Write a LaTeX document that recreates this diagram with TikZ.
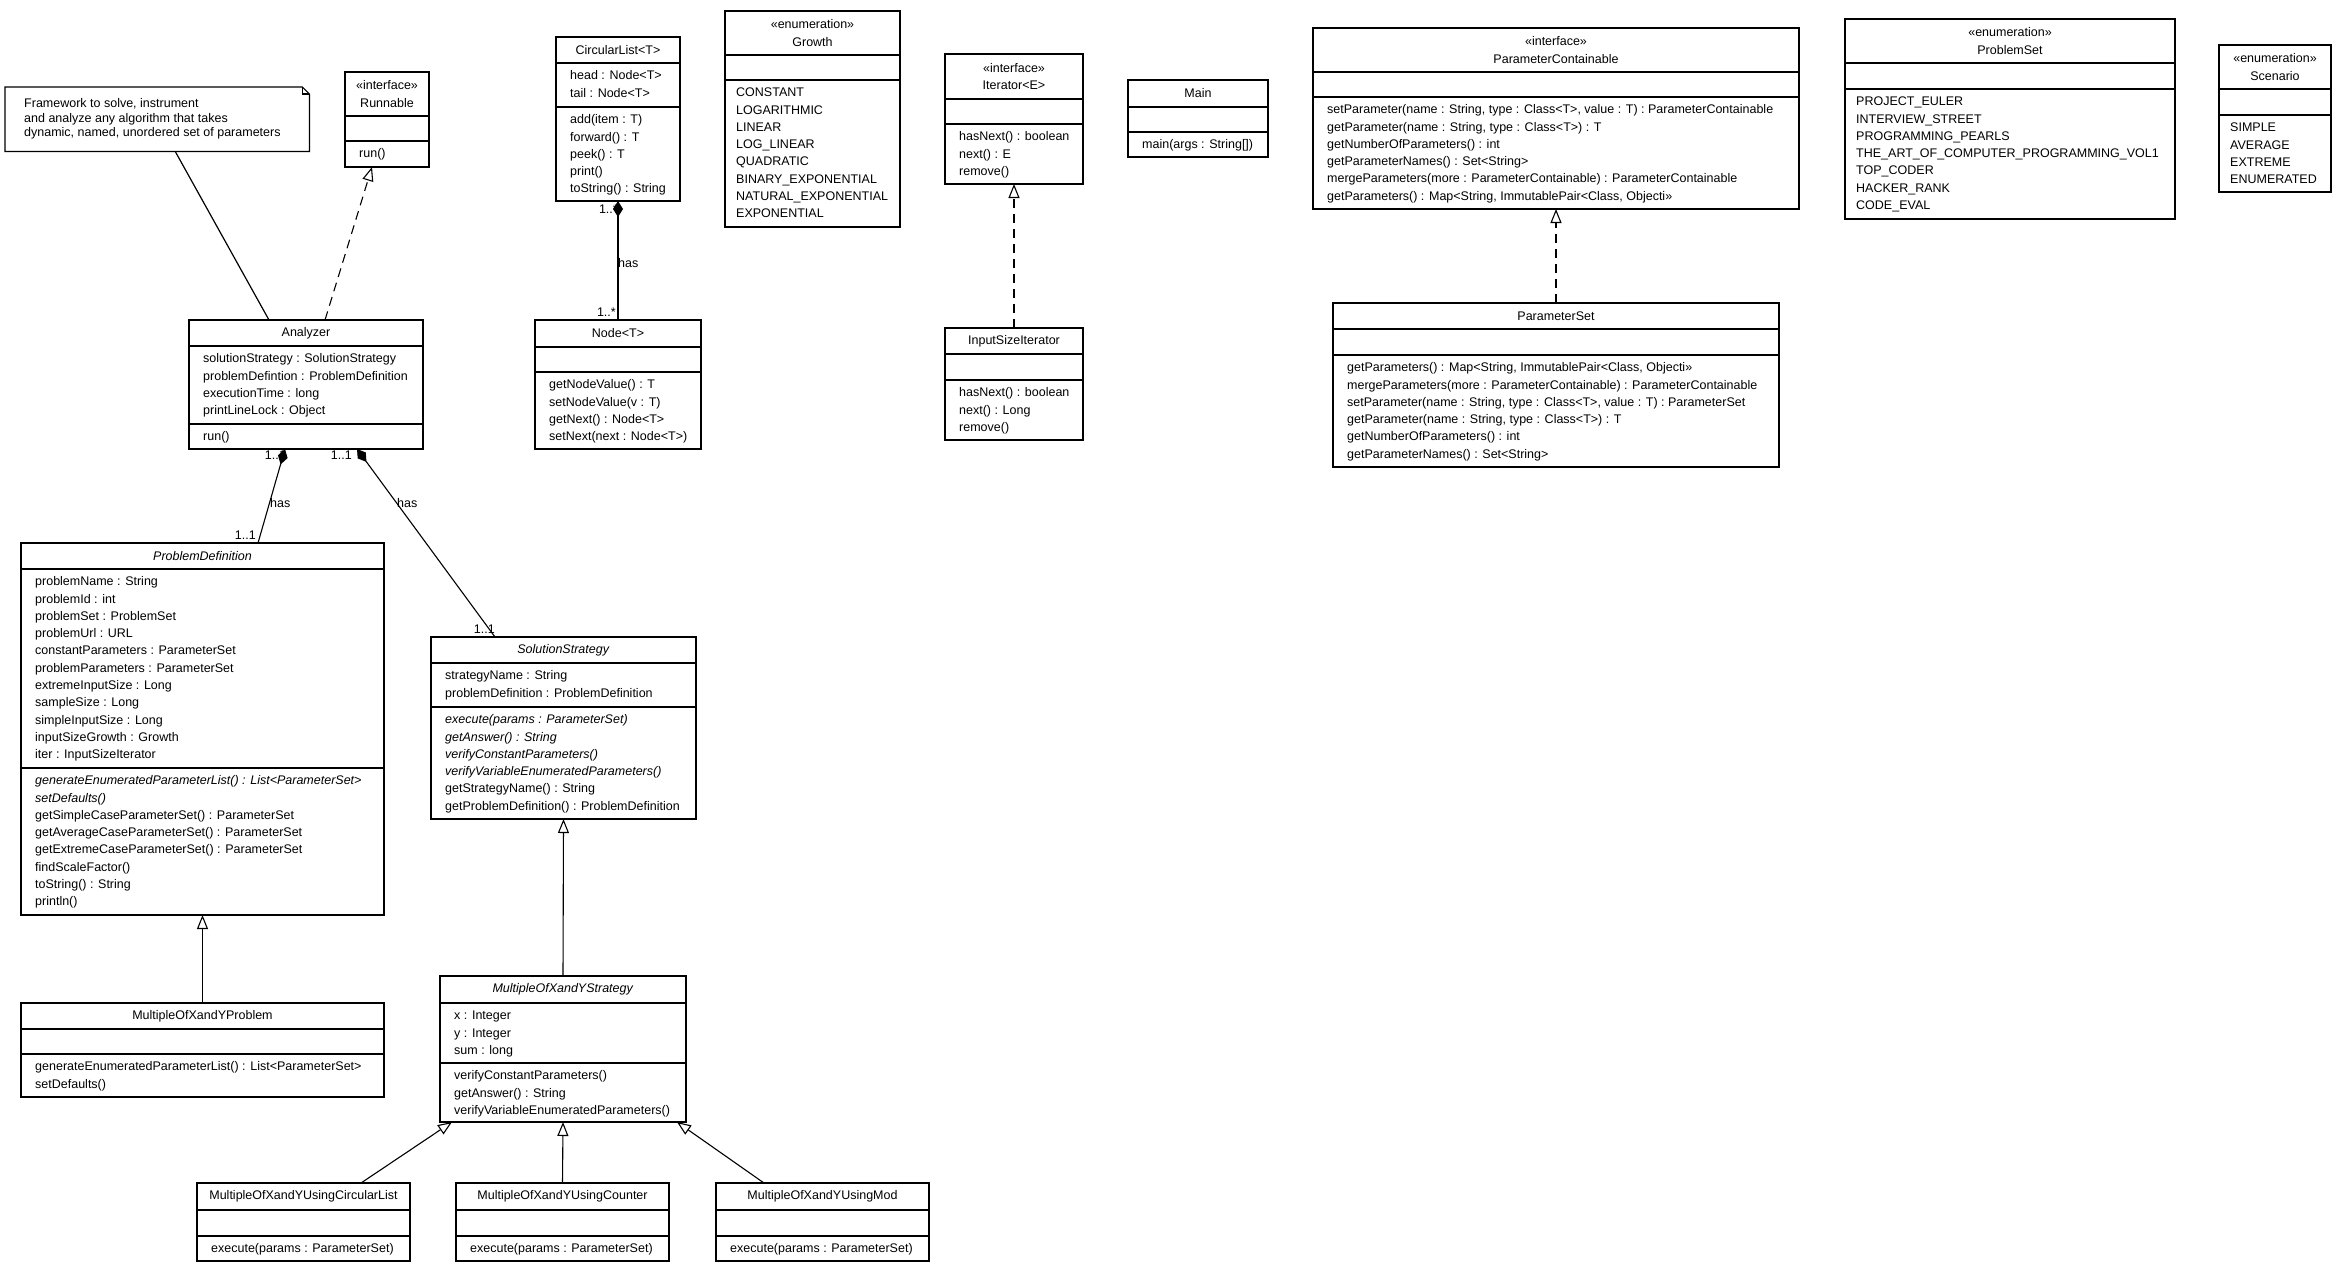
\documentclass[tikz,border=0pt]{standalone}
\usepackage{fontspec}
\setmainfont{Liberation Sans}
\usetikzlibrary{arrows.meta}

\tikzset{
  boxline/.style={line width=1.2pt},
  classnode/.style={draw,boxline,fill=white,anchor=north west,inner sep=0pt,outer sep=0pt},
  titletext/.style={inner sep=0pt,align=center,font=\fontsize{12.5}{17.3}\selectfont},
  listtext/.style={inner sep=0pt,anchor=north west,align=left,font=\fontsize{12.5}{17.3}\selectfont},
  notetext/.style={inner sep=0pt,anchor=north west,align=left,font=\fontsize{12.5}{14.8}\selectfont},
  multlabel/.style={inner sep=0pt,font=\fontsize{12.5}{15}\selectfont},
  realize/.style={line width=1.1pt,dash pattern=on 9pt off 6pt,arrows={-Triangle[open,length=14pt,width=11pt]}},
  extend/.style={line width=1.1pt,arrows={-Triangle[open,length=14pt,width=11pt]}},
  compose/.style={line width=1.1pt,arrows={Diamond[length=16pt,width=10pt]-}},
}

\def\colinset{14}
% id, corner, width, head/attr/op heights, title, attributes, operations
\newcommand\classbox[9]{%
  \node[classnode,minimum width=#3,minimum height=#4+#5+#6] (#1) at (#2) {};
  \draw[boxline] ([yshift=-#4]#1.north west) -- ([yshift=-#4]#1.north east);
  \draw[boxline] ([yshift=-#4-#5]#1.north west) -- ([yshift=-#4-#5]#1.north east);
  \node[titletext] (#1-title) at ([yshift=-#4/2]#1.north) {#7};
  \node[listtext] (#1-attrs) at ([xshift=\colinset,yshift=-#4-3.5]#1.north west) {\rule{0pt}{13pt}#8};
  \node[listtext] (#1-ops) at ([xshift=\colinset,yshift=-#4-#5-3.5]#1.north west) {\rule{0pt}{13pt}#9};
}

\begin{document}
\begin{tikzpicture}[x=1pt,y=-1pt]
\path[use as bounding box,fill=white] (0,0) rectangle (2345,1272);

\node[minimum width=304,minimum height=64,anchor=north west,inner sep=0pt] (note) at (5,87) {};
\draw[boxline] (note.north west) -- ([xshift=-7]note.north east) -- ([yshift=-7]note.north east)
  -- (note.south east) -- (note.south west) -- cycle;
\draw[boxline] ([xshift=-7]note.north east) |- ([yshift=-7]note.north east);
\node[notetext] (notebody) at (24,94) {\rule{0pt}{13pt}Framework to solve, instrument\\and analyze any algorithm that takes\\dynamic, named, unordered set of parameters};

\classbox{runnable}{345,72}{84}{44}{25}{26}{«interface»\\Runnable}{}{run()}
\classbox{analyzer}{189,320}{234}{26}{78}{25}{Analyzer}{solutionStrategy : SolutionStrategy\\problemDefintion : ProblemDefinition\\executionTime : long\\printLineLock : Object}{run()}
\classbox{circular}{556,37}{124}{26}{44}{94}{CircularList<T>}{head : Node<T>\\tail : Node<T>}{add(item : T)\\forward() : T\\peek() : T\\print()\\toString() : String}
\classbox{nodet}{535,320}{166}{27}{25}{77}{Node<T>}{}{getNodeValue() : T\\setNodeValue(v : T)\\getNext() : Node<T>\\setNext(next : Node<T>)}
\classbox{iterator}{945,54}{138}{45}{25}{60}{«interface»\\Iterator<E>}{}{hasNext() : boolean\\next() : E\\remove()}
\classbox{inputiter}{945,328}{138}{26}{26}{60}{InputSizeIterator}{}{hasNext() : boolean\\next() : Long\\remove()}
\classbox{main}{1128,80}{140}{27}{25}{25}{Main}{}{main(args : String[])}
\classbox{paramcont}{1313,28}{486}{44}{25}{112}{«interface»\\ParameterContainable}{}{setParameter(name : String, type : Class<T>, value : T) : ParameterContainable\\getParameter(name : String, type : Class<T>) : T\\getNumberOfParameters() : int\\getParameterNames() : Set<String>\\mergeParameters(more : ParameterContainable) : ParameterContainable\\getParameters() : Map<String, ImmutablePair<Class, Objecti>>}
\classbox{paramset}{1333,303}{446}{26}{26}{112}{ParameterSet}{}{getParameters() : Map<String, ImmutablePair<Class, Objecti>>\\mergeParameters(more : ParameterContainable) : ParameterContainable\\setParameter(name : String, type : Class<T>, value : T) : ParameterSet\\getParameter(name : String, type : Class<T>) : T\\getNumberOfParameters() : int\\getParameterNames() : Set<String>}
\classbox{problemdef}{21,543}{363}{26}{199}{147}{\textit{ProblemDefinition}}{problemName : String\\problemId : int\\problemSet : ProblemSet\\problemUrl : URL\\constantParameters : ParameterSet\\problemParameters : ParameterSet\\extremeInputSize : Long\\sampleSize : Long\\simpleInputSize : Long\\inputSizeGrowth : Growth\\iter : InputSizeIterator}{\textit{generateEnumeratedParameterList() : List<ParameterSet>}\\\textit{setDefaults()}\\getSimpleCaseParameterSet() : ParameterSet\\getAverageCaseParameterSet() : ParameterSet\\getExtremeCaseParameterSet() : ParameterSet\\findScaleFactor()\\toString() : String\\println()}
\classbox{strategy}{431,637}{265}{26}{44}{112}{\textit{SolutionStrategy}}{strategyName : String\\problemDefinition : ProblemDefinition}{\textit{execute(params : ParameterSet)}\\\textit{getAnswer() : String}\\\textit{verifyConstantParameters()}\\\textit{verifyVariableEnumeratedParameters()}\\getStrategyName() : String\\getProblemDefinition() : ProblemDefinition}
\classbox{problemxy}{21,1003}{363}{26}{25}{43}{MultipleOfXandYProblem}{}{generateEnumeratedParameterList() : List<ParameterSet>\\setDefaults()}
\classbox{strategyxy}{440,976}{246}{27}{60}{59}{\textit{MultipleOfXandYStrategy}}{x : Integer\\y : Integer\\sum : long}{verifyConstantParameters()\\getAnswer() : String\\verifyVariableEnumeratedParameters()}
\classbox{usingcircular}{197,1183}{213}{27}{26}{25}{MultipleOfXandYUsingCircularList}{}{execute(params : ParameterSet)}
\classbox{usingcounter}{456,1183}{213}{27}{26}{25}{MultipleOfXandYUsingCounter}{}{execute(params : ParameterSet)}
\classbox{usingmod}{716,1183}{213}{27}{26}{25}{MultipleOfXandYUsingMod}{}{execute(params : ParameterSet)}
\def\colinset{11}
\classbox{growth}{725,11}{175}{44}{25}{147}{«enumeration»\\Growth}{}{CONSTANT\\LOGARITHMIC\\LINEAR\\LOG\_LINEAR\\QUADRATIC\\BINARY\_EXPONENTIAL\\NATURAL\_EXPONENTIAL\\EXPONENTIAL}
\classbox{problemset}{1845,19}{330}{44}{26}{130}{«enumeration»\\ProblemSet}{}{PROJECT\_EULER\\INTERVIEW\_STREET\\PROGRAMMING\_PEARLS\\THE\_ART\_OF\_COMPUTER\_PROGRAMMING\_VOL1\\TOP\_CODER\\HACKER\_RANK\\CODE\_EVAL}
\classbox{scenario}{2219,45}{112}{44}{26}{77}{«enumeration»\\Scenario}{}{SIMPLE\\AVERAGE\\EXTREME\\ENUMERATED}

\node[multlabel,anchor=base east] (mult1) at (286,459) {1..1};
\node[multlabel,anchor=base west] (has1) at (270,507) {has};
\node[multlabel,anchor=base east] (mult2) at (256,539) {1..1};
\node[multlabel,anchor=base east] (mult3) at (352,459) {1..1};
\node[multlabel,anchor=base west] (has2) at (397,507) {has};
\node[multlabel,anchor=base east] (mult4) at (495,633) {1..1};
\node[multlabel,anchor=base east] (mult5) at (618,213) {1..*};
\node[multlabel,anchor=base west] (has3) at (618,267) {has};
\node[multlabel,anchor=base east] (mult6) at (616,316) {1..*};

\draw[boxline] ([xshift=18]note.south) -- ([xshift=-37]analyzer.north);
\draw[realize] ([xshift=19]analyzer.north) -- ([xshift=-15]runnable.south);
\draw[realize] (inputiter.north) -- (iterator.south);
\draw[realize] (paramset.north) -- (paramcont.south);
\draw[extend] (problemxy.north) -- (problemdef.south);
\draw[extend] (strategyxy.north) -- (strategy.south);
\draw[extend] ([xshift=57.5]usingcircular.north) -- ([xshift=-111]strategyxy.south);
\draw[extend] (usingcounter.north) -- (strategyxy.south);
\draw[extend] ([xshift=-58.5]usingmod.north) -- ([xshift=114]strategyxy.south);
\draw[compose] (circular.south) -- (nodet.north);
\draw[compose] ([xshift=-21]analyzer.south) -- ([xshift=55.5]problemdef.north);
\draw[compose] ([xshift=51]analyzer.south) -- ([xshift=-68.5]strategy.north);
\end{tikzpicture}
\end{document}
